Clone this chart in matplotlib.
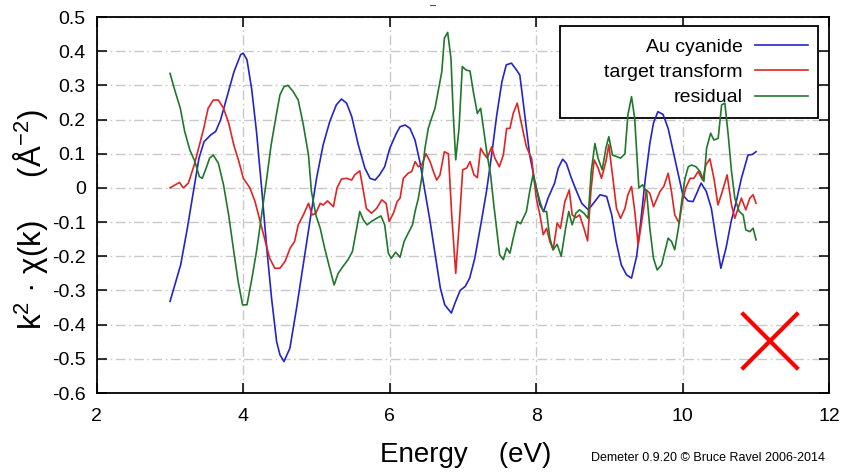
import matplotlib
matplotlib.use("Agg")
import matplotlib.pyplot as plt
from matplotlib.lines import Line2D
from matplotlib.patches import Rectangle
from matplotlib.ticker import FixedLocator, FuncFormatter

plt.rcParams['font.family'] = ['Liberation Sans', 'DejaVu Sans']
plt.rcParams['mathtext.fontset'] = 'custom'
plt.rcParams['mathtext.rm'] = 'Liberation Sans'
plt.rcParams['mathtext.it'] = 'Liberation Sans:italic'
plt.rcParams['axes.unicode_minus'] = False

# ---------------- data ----------------
blue_x = [3.0, 3.145, 3.236, 3.327, 3.395, 3.464, 3.555, 3.623, 3.691, 3.782, 3.873, 3.964, 4.0, 4.05,
          4.114, 4.18, 4.25, 4.32, 4.386, 4.455, 4.5, 4.555, 4.636, 4.727, 4.818, 4.909, 5.0, 5.09,
          5.18, 5.27, 5.34, 5.41, 5.48, 5.57, 5.66, 5.73, 5.8, 5.86, 5.93, 6.0, 6.09, 6.14, 6.21,
          6.276, 6.344, 6.41, 6.48, 6.55, 6.62, 6.69, 6.75, 6.84, 6.89, 6.96, 7.03, 7.09, 7.16, 7.25,
          7.32, 7.39, 7.46, 7.53, 7.59, 7.66, 7.73, 7.775, 7.843, 7.91, 7.98, 8.05, 8.10, 8.16, 8.25,
          8.30, 8.36, 8.41, 8.48, 8.55, 8.62, 8.71, 8.78, 8.87, 8.96, 9.03, 9.09, 9.16, 9.23, 9.30,
          9.37, 9.43, 9.49, 9.55, 9.60, 9.66, 9.73, 9.80, 9.87, 9.94, 10.0, 10.07, 10.14, 10.19,
          10.25, 10.32, 10.39, 10.46, 10.52, 10.59, 10.66, 10.73, 10.80, 10.89, 10.95, 11.0]
blue_y = [-0.332, -0.225, -0.118, 0.0, 0.087, 0.135, 0.155, 0.165, 0.2, 0.27, 0.34, 0.39, 0.394, 0.375,
          0.29, 0.165, 0.0, -0.176, -0.323, -0.45, -0.488, -0.508, -0.469, -0.352, -0.225, -0.098, 0.028, 0.126,
          0.194, 0.243, 0.26, 0.248, 0.209, 0.126, 0.058, 0.028, 0.023, 0.038, 0.062, 0.116, 0.16, 0.179, 0.184,
          0.174, 0.14, 0.077, -0.01, -0.098, -0.196, -0.293, -0.342, -0.366, -0.337, -0.30, -0.288, -0.264, -0.206, -0.098,
          -0.01, 0.096, 0.213, 0.31, 0.36, 0.365, 0.345, 0.33, 0.213, 0.096, 0.019, -0.05, -0.069, -0.03, 0.014,
          0.058, 0.084, 0.072, 0.028, -0.01, -0.045, -0.064, -0.045, -0.02, -0.025, -0.079, -0.157, -0.225, -0.254, -0.264,
          -0.2, -0.09, 0.03, 0.13, 0.19, 0.223, 0.215, 0.174, 0.106, 0.038, -0.02, -0.038, -0.04, -0.016,
          0.014, -0.01, -0.06, -0.157, -0.235, -0.176, -0.098, -0.04, 0.028, 0.096, 0.098, 0.106]

red_x = [3.0, 3.07, 3.13, 3.18, 3.25, 3.33, 3.39, 3.46, 3.52, 3.59, 3.66, 3.73, 3.80, 3.87, 3.94, 4.0,
         4.09, 4.16, 4.23, 4.30, 4.36, 4.43, 4.5, 4.57, 4.64, 4.70, 4.75, 4.82, 4.89, 4.94, 4.99, 5.05,
         5.09, 5.15, 5.23, 5.28, 5.34, 5.41, 5.48, 5.52, 5.59, 5.64, 5.68, 5.75, 5.82, 5.89, 5.95, 5.99,
         6.05, 6.10, 6.14, 6.185, 6.25, 6.30, 6.345, 6.39, 6.435, 6.495, 6.55, 6.595, 6.64, 6.685, 6.745,
         6.80, 6.845, 6.90, 6.95, 6.995, 7.05, 7.095, 7.15, 7.195, 7.24, 7.285, 7.33, 7.39, 7.435, 7.495,
         7.55, 7.595, 7.64, 7.685, 7.74, 7.785, 7.82, 7.865, 7.935, 8.0, 8.05, 8.095, 8.14, 8.185, 8.23,
         8.285, 8.33, 8.39, 8.45, 8.49, 8.54, 8.59, 8.65, 8.70, 8.745, 8.79, 8.845, 8.89, 8.95, 8.99,
         9.04, 9.095, 9.15, 9.21, 9.25, 9.30, 9.345, 9.39, 9.46, 9.505, 9.55, 9.60, 9.64, 9.69, 9.74,
         9.80, 9.845, 9.89, 9.95, 9.995, 10.04, 10.10, 10.15, 10.21, 10.27, 10.315, 10.37, 10.425, 10.48,
         10.54, 10.605, 10.665, 10.71, 10.77, 10.80, 10.86, 10.915, 10.96, 11.0]
red_y = [0.0, 0.009, 0.016, 0.0, 0.014, 0.067, 0.116, 0.174, 0.233, 0.257, 0.257, 0.233, 0.19, 0.126, 0.077, 0.028,
         0.0, -0.04, -0.098, -0.157, -0.206, -0.235, -0.235, -0.215, -0.176, -0.157, -0.108, -0.079, -0.045, -0.079, -0.074, -0.045,
         -0.05, -0.038, -0.055, 0.0, 0.026, 0.028, 0.023, 0.038, 0.05, -0.01, -0.06, -0.074, -0.06, -0.035, -0.045, -0.098,
         -0.074, -0.04, -0.03, 0.028, 0.043, 0.048, 0.077, 0.062, 0.067, 0.10, 0.077, 0.048, 0.023, 0.038, 0.106,
         0.10, -0.079, -0.25, -0.098, 0.053, 0.058, 0.077, 0.038, 0.03, 0.116, 0.10, 0.087, 0.12, 0.087, 0.062,
         0.096, 0.174, 0.174, 0.218, 0.248, 0.2, 0.165, 0.12, 0.087, -0.03, -0.079, -0.137, -0.118, -0.157, -0.181,
         -0.103, -0.118, -0.04, -0.006, -0.079, -0.087, -0.079, -0.118, -0.155, -0.01, 0.082, 0.058, 0.028, 0.077, 0.126,
         0.038, -0.06, -0.089, -0.06, -0.02, 0.004, -0.069, -0.167, -0.069, -0.006, -0.016, -0.055, -0.035, -0.01, 0.004,
         0.043, -0.01, -0.079, -0.103, -0.04, 0.0, 0.028, 0.028, 0.048, 0.023, 0.067, 0.085, 0.028, -0.05,
         -0.01, 0.038, -0.05, -0.089, -0.05, -0.03, -0.064, -0.03, -0.02, -0.045]

green_x = [3.0, 3.07, 3.14, 3.20, 3.27, 3.34, 3.40, 3.44, 3.50, 3.54, 3.59, 3.66, 3.73, 3.80, 3.87, 3.93,
           3.99, 4.05, 4.11, 4.18, 4.25, 4.32, 4.38, 4.45, 4.5, 4.555, 4.61, 4.68, 4.75, 4.82, 4.89, 4.93,
           4.99, 5.05, 5.11, 5.18, 5.24, 5.295, 5.36, 5.43, 5.49, 5.54, 5.59, 5.64, 5.69, 5.75, 5.82, 5.88,
           5.93, 5.98, 6.02, 6.08, 6.14, 6.195, 6.25, 6.31, 6.345, 6.39, 6.435, 6.48, 6.525, 6.57, 6.617,
           6.66, 6.71, 6.745, 6.79, 6.835, 6.867, 6.90, 6.945, 6.99, 7.04, 7.095, 7.14, 7.195, 7.24, 7.285,
           7.33, 7.376, 7.42, 7.467, 7.50, 7.55, 7.595, 7.64, 7.685, 7.74, 7.785, 7.865, 7.91, 7.955, 8.0,
           8.05, 8.095, 8.14, 8.185, 8.23, 8.285, 8.34, 8.40, 8.443, 8.49, 8.54, 8.59, 8.65, 8.706, 8.75,
           8.80, 8.843, 8.90, 8.95, 8.99, 9.04, 9.093, 9.15, 9.21, 9.25, 9.30, 9.343, 9.40, 9.45, 9.505,
           9.55, 9.60, 9.65, 9.71, 9.755, 9.80, 9.847, 9.89, 9.94, 9.985, 10.03, 10.075, 10.12, 10.18,
           10.235, 10.288, 10.325, 10.38, 10.425, 10.483, 10.53, 10.574, 10.62, 10.665, 10.71, 10.77,
           10.824, 10.86, 10.915, 10.96, 11.0]
green_y = [0.335, 0.282, 0.233, 0.165, 0.111, 0.077, 0.033, 0.028, 0.062, 0.087, 0.096, 0.072, 0.009, -0.079, -0.186, -0.274,
           -0.342, -0.342, -0.274, -0.186, -0.079, 0.028, 0.126, 0.213, 0.272, 0.296, 0.30, 0.282, 0.257, 0.184, 0.096, -0.01,
           -0.079, -0.118, -0.176, -0.235, -0.284, -0.25, -0.23, -0.21, -0.186, -0.128, -0.069, -0.094, -0.108, -0.098, -0.089, -0.082,
           -0.108, -0.191, -0.206, -0.188, -0.203, -0.157, -0.133, -0.108, -0.069, -0.03, 0.028, 0.116, 0.174, 0.204, 0.233,
           0.282, 0.34, 0.438, 0.455, 0.379, 0.213, 0.082, 0.174, 0.355, 0.345, 0.342, 0.282, 0.218, 0.233, 0.165,
           0.096, 0.038, -0.05, -0.137, -0.196, -0.21, -0.176, -0.191, -0.147, -0.098, -0.105, -0.069, -0.01, 0.038, 0.0,
           -0.04, -0.069, -0.069, -0.147, -0.181, -0.165, -0.2, -0.118, -0.069, -0.108, -0.074, -0.064, -0.074, -0.089, 0.048,
           0.13, 0.087, 0.053, 0.116, 0.15, 0.096, 0.092, 0.087, 0.10, 0.213, 0.267, 0.204, 0.0, 0.009, -0.01,
           -0.118, -0.206, -0.24, -0.225, -0.186, -0.147, -0.157, -0.181, -0.118, -0.04, 0.028, 0.062, 0.067, 0.062,
           0.048, 0.019, 0.116, 0.16, 0.14, 0.145, 0.243, 0.248, 0.155, 0.048, -0.03, -0.069,
           -0.079, -0.123, -0.128, -0.118, -0.152]

series_labels = ["Au cyanide", "target transform", "residual"]
x_ticks = [2, 4, 6, 8, 10, 12]
y_ticks = [-0.6, -0.5, -0.4, -0.3, -0.2, -0.1, 0.0, 0.1, 0.2, 0.3, 0.4, 0.5]

# ---------------- figure ----------------
W, H = 846, 472
fig = plt.figure(figsize=(W / 100, H / 100), dpi=100)
L, R, T, B = 96.8, 829.3, 17.0, 393.0
ax = fig.add_axes([L / W, 1 - B / H, (R - L) / W, (B - T) / H])

c_blue, c_red, c_green = '#2424c8', '#e02424', '#20782a'
lw = 1.2
lb, = ax.plot(blue_x, blue_y, color=c_blue, lw=lw, zorder=3, label=series_labels[0])
lr, = ax.plot(red_x, red_y, color=c_red, lw=lw, zorder=3, label=series_labels[1])
lg, = ax.plot(green_x, green_y, color=c_green, lw=lw, zorder=3, label=series_labels[2])

ax.set_xlim(2, 12)
ax.set_ylim(-0.6, 0.5)
ax.xaxis.set_major_locator(FixedLocator(x_ticks))
ax.yaxis.set_major_locator(FixedLocator(y_ticks))
ax.yaxis.set_major_formatter(FuncFormatter(lambda v, p: "0" if abs(v) < 1e-9 else ("%.1f" % v)))
ax.xaxis.set_major_formatter(FuncFormatter(lambda v, p: "%d" % round(v)))

ax.tick_params(which='major', direction='in', length=7, width=1.1, top=True, right=True,
               labelsize=14, colors='black', pad=8)
ax.tick_params(axis='x', pad=11)

ax.grid(True, color='#c8c8c8', lw=1.0, linestyle=(0, (7, 2.5, 1.2, 2.5)), zorder=1)
ax.set_axisbelow(True)
for s in ax.spines.values():
    s.set_linewidth(1.3)
    s.set_color('black')

# legend box (white, framed) below the lines
rx0 = (560 - L) / (R - L)
rx1 = (818 - L) / (R - L)
ry1 = (B - 25.7) / (B - T)
ry0 = (B - 117.7) / (B - T)
ax.add_patch(Rectangle((rx0, ry0), rx1 - rx0, ry1 - ry0, transform=ax.transAxes,
                       facecolor='white', edgecolor='black', lw=1.3, zorder=2.4))
leg = ax.legend(handles=[lb, lr, lg], loc='upper right',
                bbox_to_anchor=((808 - L) / (R - L), (B - 38) / (B - T)),
                frameon=False, markerfirst=False, fontsize=14, handlelength=2.75,
                handletextpad=0.6, labelspacing=0.4, borderpad=0, borderaxespad=0)
leg.set_zorder(2.6)

# axis labels
fig.text(465.5 / W, 1 - 455 / H, "Energy    (eV)", ha='center', va='center', fontsize=20)
fig.text(30 / W, 1 - 220 / H, "k$^{2}$ · χ(k)     (Å$^{-2}$)", ha='center', va='center',
         rotation=90, fontsize=22.5)

# footer
fig.text(825 / W, 1 - 458 / H, "Demeter 0.9.20 © Bruce Ravel 2006-2014", ha='right', va='center',
         fontsize=9)

# red cross mark
for (x0, y0, x1, y1) in [(741.7, 312.7, 798.3, 369.3), (741.7, 369.3, 798.3, 312.7)]:
    fig.add_artist(Line2D([x0 / W, x1 / W], [1 - y0 / H, 1 - y1 / H], transform=fig.transFigure,
                          color='#ff0000', lw=3.0, solid_capstyle='butt'))

# small remnant dash at top
fig.add_artist(Line2D([430 / W, 435 / W], [1 - 5 / H, 1 - 5 / H], transform=fig.transFigure,
                      color='#555555', lw=0.8))

fig.savefig("out.png", dpi=100)
